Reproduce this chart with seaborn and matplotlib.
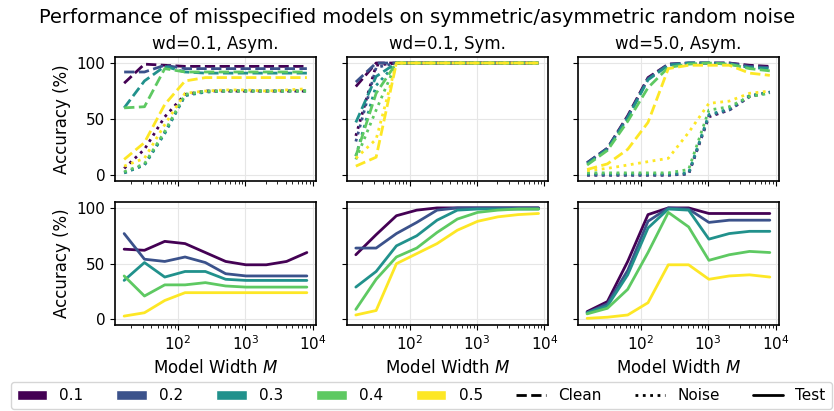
import numpy as np
import pandas as pd
import matplotlib
matplotlib.use("Agg")
import matplotlib.pyplot as plt
import seaborn as sns
from matplotlib.patches import Patch
from matplotlib.lines import Line2D

widths = [16, 32, 64, 128, 256, 512, 1024, 2048, 4096, 8192]
noise_rates = ["0.1", "0.2", "0.3", "0.4", "0.5"]
panel_titles = ["wd=0.1, Asym.", "wd=0.1, Sym.", "wd=5.0, Asym."]

# Panel 1: wd=0.1, Asym.
p1_clean = {
    "0.1": [82, 99, 98, 97, 97, 97, 97, 97, 97, 97],
    "0.2": [92, 92, 98, 95, 95, 95, 95, 95, 95, 95],
    "0.3": [60, 84, 97, 92, 91, 91, 91, 91, 91, 91],
    "0.4": [60, 61, 95, 92, 92, 92, 92, 92, 92, 92],
    "0.5": [14, 29, 63, 84, 87, 87, 87, 87, 87, 87],
}
p1_noise = {
    "0.1": [6, 23, 52, 72, 75, 75, 75, 75, 75, 75],
    "0.2": [2, 9, 38, 71, 75, 75, 75, 75, 75, 75],
    "0.3": [2, 9, 37, 71, 74, 75, 75, 75, 75, 75],
    "0.4": [3, 10, 39, 72, 75, 75, 75, 75, 75, 75],
    "0.5": [8, 15, 45, 73, 75, 76, 76, 75, 76, 77],
}
p1_test = {
    "0.1": [63, 62, 70, 68, 60, 52, 49, 49, 52, 60],
    "0.2": [77, 54, 52, 56, 51, 41, 39, 39, 39, 39],
    "0.3": [35, 51, 38, 43, 43, 36, 35, 35, 35, 35],
    "0.4": [39, 21, 31, 31, 33, 30, 29, 29, 29, 29],
    "0.5": [3, 6, 17, 24, 24, 24, 24, 24, 24, 24],
}

# Panel 2: wd=0.1, Sym.
p2_clean = {
    "0.1": [79, 100, 100, 100, 100, 100, 100, 100, 100, 100],
    "0.2": [83, 100, 100, 100, 100, 100, 100, 100, 100, 100],
    "0.3": [47, 88, 100, 100, 100, 100, 100, 100, 100, 100],
    "0.4": [17, 73, 100, 100, 100, 100, 100, 100, 100, 100],
    "0.5": [8, 16, 100, 100, 100, 100, 100, 100, 100, 100],
}
p2_noise = {
    "0.1": [35, 98, 100, 100, 100, 100, 100, 100, 100, 100],
    "0.2": [30, 96, 100, 100, 100, 100, 100, 100, 100, 100],
    "0.3": [17, 80, 100, 100, 100, 100, 100, 100, 100, 100],
    "0.4": [14, 58, 100, 100, 100, 100, 100, 100, 100, 100],
    "0.5": [15, 32, 100, 100, 100, 100, 100, 100, 100, 100],
}
p2_test = {
    "0.1": [58, 76, 93, 98, 100, 100, 100, 100, 100, 100],
    "0.2": [64, 64, 77, 87, 98, 100, 100, 100, 100, 100],
    "0.3": [29, 43, 66, 75, 89, 98, 99, 99, 99, 99],
    "0.4": [9, 36, 56, 64, 78, 90, 96, 98, 99, 99],
    "0.5": [4, 8, 50, 59, 68, 80, 88, 92, 94, 95],
}

# Panel 3: wd=5.0, Asym.
p3_clean = {
    "0.1": [11, 24, 53, 87, 99, 100, 100, 100, 98, 97],
    "0.2": [11, 24, 52, 86, 99, 100, 100, 100, 97, 96],
    "0.3": [10, 23, 51, 85, 98, 100, 100, 99, 96, 95],
    "0.4": [9, 22, 48, 78, 96, 99, 100, 99, 95, 93],
    "0.5": [5, 10, 23, 47, 95, 98, 98, 98, 91, 89],
}
p3_noise = {
    "0.1": [0, 0, 0, 0, 0, 1, 52, 58, 70, 74],
    "0.2": [0, 0, 0, 0, 0, 1, 53, 58, 70, 74],
    "0.3": [1, 1, 1, 1, 1, 2, 54, 59, 71, 74],
    "0.4": [2, 2, 2, 2, 2, 5, 58, 61, 70, 73],
    "0.5": [4, 6, 9, 12, 15, 38, 64, 66, 73, 75],
}
p3_test = {
    "0.1": [7, 16, 52, 94, 100, 100, 95, 95, 95, 95],
    "0.2": [6, 14, 44, 88, 100, 99, 87, 89, 89, 89],
    "0.3": [6, 12, 40, 82, 99, 98, 72, 77, 79, 79],
    "0.4": [5, 10, 27, 60, 96, 83, 53, 58, 61, 60],
    "0.5": [1, 2, 4, 15, 49, 49, 36, 39, 40, 38],
}

panels = [
    (p1_clean, p1_noise, p1_test),
    (p2_clean, p2_noise, p2_test),
    (p3_clean, p3_noise, p3_test),
]

viridis_cols = [matplotlib.colormaps["viridis"](v) for v in np.linspace(0, 1, 5)]
palette = dict(zip(noise_rates, viridis_cols))

sns.set_style("ticks")
plt.rcParams["font.family"] = ["DejaVu Sans"]
for key in ["text.color", "axes.labelcolor", "xtick.color", "ytick.color", "axes.edgecolor"]:
    plt.rcParams[key] = "black"


def to_long(series_dict, kind):
    rows = []
    for rate, vals in series_dict.items():
        for w, v in zip(widths, vals):
            rows.append({"width": w, "acc": v, "rate": rate, "kind": kind})
    return pd.DataFrame(rows)


fig = plt.figure(figsize=(8.34, 4.11), dpi=100)
lefts = [0.1379, 0.4157, 0.6930]
wax = 0.241
axes = [[None] * 3 for _ in range(2)]
for r, (bottom, h) in enumerate([(0.5603, 0.300), (0.2092, 0.2985)]):
    for c in range(3):
        kw = {}
        if c > 0:
            kw["sharey"] = axes[r][0]
        if r > 0:
            kw["sharex"] = axes[0][c]
        axes[r][c] = fig.add_axes([lefts[c], bottom, wax, h], **kw)

dashes = {"Clean": (3.7, 1.6), "Noise": (1, 1.65), "Test": ""}

for c, (clean, noise, test) in enumerate(panels):
    top_df = pd.concat([to_long(clean, "Clean"), to_long(noise, "Noise")])
    bot_df = to_long(test, "Test")
    ax = axes[0][c]
    sns.lineplot(data=top_df, x="width", y="acc", hue="rate", style="kind",
                 palette=palette, dashes=dashes, linewidth=2, legend=False,
                 ax=ax, hue_order=noise_rates, style_order=["Clean", "Noise"])
    ax.set_title(panel_titles[c], fontsize=12)
    ax2 = axes[1][c]
    sns.lineplot(data=bot_df, x="width", y="acc", hue="rate",
                 palette=palette, linewidth=2, legend=False,
                 ax=ax2, hue_order=noise_rates)
    for a in (ax, ax2):
        a.set_xscale("log")
        a.grid(True, color="#e6e6e6", linewidth=0.8)
        a.tick_params(labelsize=11)
        for s in a.spines.values():
            s.set_color("black")
            s.set_linewidth(1.2)
        a.set_xlabel("")
        a.set_ylabel("")
    ax.tick_params(labelbottom=False)
    ax2.set_xlabel("Model Width $M$", fontsize=12)
    if c > 0:
        ax.tick_params(labelleft=False)
        ax2.tick_params(labelleft=False)
    else:
        ax.set_ylabel("Accuracy (%)", fontsize=12)
        ax2.set_ylabel("Accuracy (%)", fontsize=12)

for r in range(2):
    axes[r][0].set_yticks([0, 50, 100])
    axes[r][0].set_ylim(-5, 105)

fig.suptitle("Performance of misspecified models on symmetric/asymmetric random noise",
             fontsize=14, y=0.98)

handles = [Patch(facecolor=palette[k], label=k) for k in noise_rates]
handles += [
    Line2D([0], [0], color="black", linestyle="--", linewidth=2, label="Clean"),
    Line2D([0], [0], color="black", linestyle=":", linewidth=2, label="Noise"),
    Line2D([0], [0], color="black", linestyle="-", linewidth=2, label="Test"),
]
fig.legend(handles=handles, loc="lower center", ncol=8, fontsize=11,
           bbox_to_anchor=(0.505, 0.0), frameon=True, columnspacing=2.15,
           handlelength=2.0, borderaxespad=0.1)

fig.savefig("out.png", dpi=100)
